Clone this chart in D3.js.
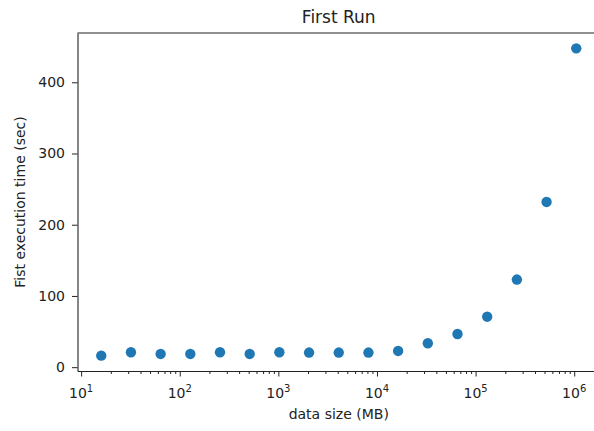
<!doctype html>
<html lang="en">
<head>
<meta charset="utf-8">
<title>First Run</title>
<script src="https://cdn.jsdelivr.net/npm/d3@7"></script>
<style>
  body { margin: 0; background: #fff; }
  svg { display: block; font-family: "DejaVu Sans", sans-serif; }
  .axis path, .axis line { stroke: #222; }
  .axis text { fill: #222; }
  text { fill: #222; }
</style>
</head>
<body>
<svg id="chart" width="594" height="431"></svg>
<script>
// data size in MB (powers of two) and first execution time in seconds
var sizes = [16, 32, 64, 128, 256, 512, 1024, 2048, 4096, 8192, 16384,
             32768, 65536, 131072, 262144, 524288, 1048576];
var times = [16.2, 21, 18.6, 18.6, 21, 18.6, 21, 20.5, 20.5, 20.5, 22.8,
             33.6, 46.6, 70.9, 123, 232, 447.6];
var xMajor = [1, 2, 3, 4, 5, 6];          // exponents of 10
var yTicks = [0, 100, 200, 300, 400];

var data = sizes.map(function(s, i) { return {size: s, time: times[i]}; });

var svg = d3.select("#chart");
var pLeft = 77.5, pRight = 600, pTop = 33, pBottom = 371;

// matplotlib-like 5% margins (log space for x)
var lx = d3.extent(sizes).map(Math.log10);
var padX = (lx[1] - lx[0]) * 0.05;
var x = d3.scaleLog()
    .domain([Math.pow(10, lx[0] - padX), Math.pow(10, lx[1] + padX)])
    .range([pLeft, pRight]);

var ty = d3.extent(times);
var padY = (ty[1] - ty[0]) * 0.05;
var y = d3.scaleLinear()
    .domain([ty[0] - padY, ty[1] + padY])
    .range([pBottom, pTop]);

// minor ticks 2..9 per decade
var minor = [];
for (var e = 0; e <= 6; e++) {
  for (var m = 2; m <= 9; m++) {
    var v = m * Math.pow(10, e);
    if (v > x.domain()[0] && v < x.domain()[1]) minor.push(v);
  }
}

// frame: top and left spines (right spine falls outside the picture)
svg.append("line").attr("x1", pLeft).attr("x2", pRight).attr("y1", pTop).attr("y2", pTop)
  .attr("stroke", "#222").attr("stroke-width", 1.1);

var xAxis = svg.append("g").attr("class", "axis")
  .attr("transform", "translate(0," + pBottom + ")")
  .call(d3.axisBottom(x).tickValues(minor).tickSize(3).tickSizeOuter(0).tickFormat(function() { return ""; }));
xAxis.select(".domain").attr("stroke-width", 1.1);

var xMaj = svg.append("g").attr("class", "axis")
  .attr("transform", "translate(0," + pBottom + ")")
  .call(d3.axisBottom(x).tickValues(xMajor.map(function(p) { return Math.pow(10, p); }))
    .tickSize(5.5).tickSizeOuter(0).tickFormat(function() { return ""; }));
xMaj.select(".domain").remove();

var xLab = svg.append("g").selectAll("text")
  .data(xMajor).enter().append("text")
    .attr("x", function(p) { return x(Math.pow(10, p)); })
    .attr("y", 398)
    .attr("text-anchor", "middle")
    .style("font-size", "14px");
xLab.append("tspan").text("10");
xLab.append("tspan").attr("dy", -6).style("font-size", "10px").text(function(p) { return p; });

var yAxis = svg.append("g").attr("class", "axis")
  .attr("transform", "translate(" + pLeft + ",0)")
  .call(d3.axisLeft(y).tickValues(yTicks).tickSize(5.5).tickSizeOuter(0).tickPadding(7));
yAxis.select(".domain").attr("stroke-width", 1.1);
yAxis.selectAll("text").style("font-size", "14px").style("font-family", "DejaVu Sans");

svg.append("g").selectAll("circle")
  .data(data).enter().append("circle")
    .attr("cx", function(d) { return x(d.size); })
    .attr("cy", function(d) { return y(d.time); })
    .attr("r", 5.2)
    .attr("fill", "#1f77b4");

svg.append("text")
  .attr("x", (pLeft + pRight) / 2).attr("y", 23)
  .attr("text-anchor", "middle")
  .style("font-size", "17px")
  .text("First Run");

svg.append("text")
  .attr("x", (pLeft + pRight) / 2).attr("y", 419)
  .attr("text-anchor", "middle")
  .style("font-size", "14px")
  .text("data size (MB)");

svg.append("text")
  .attr("transform", "translate(25," + (pTop + pBottom) / 2 + ") rotate(-90)")
  .attr("text-anchor", "middle")
  .style("font-size", "14px")
  .text("Fist execution time (sec)");
</script>
</body>
</html>
